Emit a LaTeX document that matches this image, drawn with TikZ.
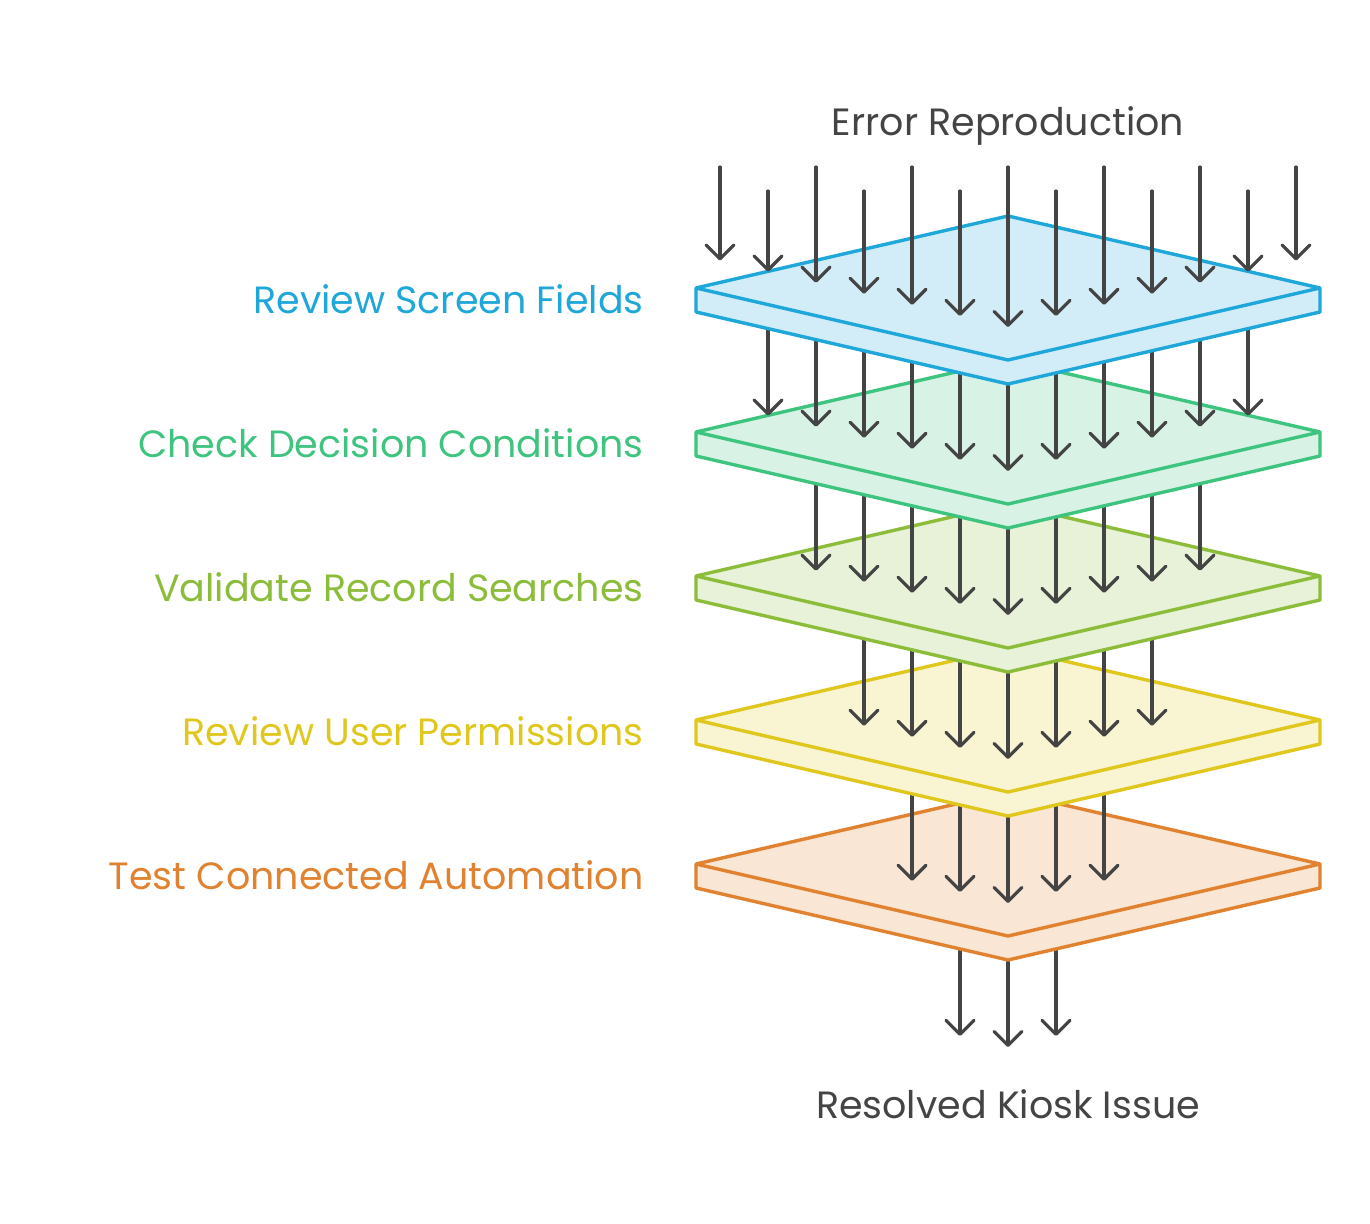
\documentclass[tikz,border=0pt]{standalone}
\usepackage{fontspec}
\setmainfont{Poppins}
\usetikzlibrary{arrows.meta, positioning, calc}
\definecolor{ink}{HTML}{444444}
\definecolor{tierA}{HTML}{1FA7DA}
\definecolor{tierB}{HTML}{3EC47F}
\definecolor{tierC}{HTML}{8CBD3A}
\definecolor{tierD}{HTML}{E0C71D}
\definecolor{tierE}{HTML}{E0822F}
\tikzset{
  slab/.style={draw=#1, fill=#1!20, line width=1.7pt, line join=round},
  rim/.style={draw=#1, line width=1.7pt, line join=round},
  tag/.style={text=#1, font=\fontsize{19}{23}\selectfont, text height=13.3pt,
              text depth=0pt, inner sep=0pt},
  flow/.style={ink, line width=1.6pt, line cap=round,
               -{Straight Barb[length=7pt, width=14pt, round]}},
}
\begin{document}
\begin{tikzpicture}[x=0.5pt, y=-0.5pt, node distance=26pt]
  \useasboundingbox (0,0) rectangle (1370,1224);
  \foreach \k in {-1,0,1} {
    \coordinate (a) at ({1008+48*(\k)}, {960-11.08*abs(\k)});
    \coordinate (b) at ({1008+48*(\k)}, {1047-11.08*abs(\k)});
    \draw[flow] (a) -- (b);
  }
  \foreach \i/\c/\t in {4/tierE/Test Connected Automation, 3/tierD/Review User Permissions,
                        2/tierC/Validate Record Searches, 1/tierB/Check Decision Conditions,
                        0/tierA/Review Screen Fields} {
    \pgfmathsetmacro\cy{288+144*\i}
    \pgfmathtruncatemacro\n{6-\i}
    \draw[slab=\c] (1008,\cy-72) -- (1320,\cy) -- (1320,\cy+24) -- (1008,\cy+96)
                   -- (696,\cy+24) -- (696,\cy) -- cycle;
    \draw[rim=\c] (696,\cy) -- (1008,\cy+72) -- (1320,\cy);
    \coordinate (side\i) at (696,\cy+12);
    \node[tag=\c, left=of side\i] (lbl\i) {\t};
    \foreach \k in {-\n,...,\n} {
      \pgfmathsetmacro\ys{\i==0 ? 167+24*mod(abs(\k),2) : 240+144*\i-11.08*abs(\k)}
      \coordinate (a) at ({1008+48*(\k)}, \ys);
      \coordinate (b) at ({1008+48*(\k)}, {327+144*\i-11.08*abs(\k)});
      \draw[flow] (a) -- (b);
    }
  }
  \node[tag=ink] (src) at (1008,122) {Error Reproduction};
  \node[tag=ink] (sink) at (1008,1105) {Resolved Kiosk Issue};
\end{tikzpicture}
\end{document}
